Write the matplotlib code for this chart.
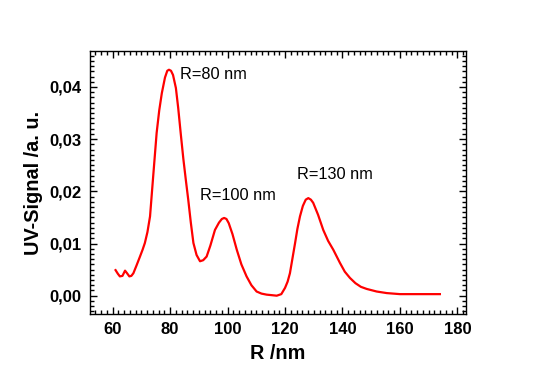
import matplotlib
matplotlib.use("Agg")
import matplotlib.pyplot as plt
from matplotlib.ticker import MultipleLocator, FuncFormatter

plt.rcParams["font.family"] = ["Liberation Sans", "DejaVu Sans"]

# R (nm) and UV signal
radius = [61.0, 61.8, 62.5, 63.4, 64.3, 65.0, 65.8, 66.5, 67.2, 68.3, 69.5, 70.4,
          71.2, 72.1, 73.0, 74.1, 75.3, 76.2, 77.1, 78.2, 79.0, 79.6, 80.3, 81.0,
          82.0, 82.8, 83.7, 84.6, 85.5, 86.3, 87.2, 88.1, 89.2, 90.4, 91.5, 92.7,
          94.0, 95.6, 97.0, 98.0, 98.8, 99.6, 100.4, 101.7, 103.2, 104.8, 106.6,
          108.3, 110.1, 111.8, 113.6, 115.4, 117.1, 118.7, 120.0, 120.9, 121.7,
          122.6, 123.5, 124.3, 125.2, 126.2, 127.2, 128.1, 129.0, 129.8, 131.5,
          133.3, 135.0, 136.8, 139.1, 140.8, 142.6, 144.5, 146.4, 148.4, 151.9,
          155.4, 160.0, 166.0, 173.9]
signal = [0.0049, 0.0042, 0.0037, 0.0038, 0.0048, 0.0043, 0.0037, 0.0038, 0.0043,
          0.0058, 0.0075, 0.0088, 0.0101, 0.0122, 0.0152, 0.0229, 0.0312, 0.0355,
          0.0388, 0.0418, 0.0431, 0.0433, 0.0431, 0.0423, 0.0398, 0.0360, 0.0310,
          0.0262, 0.0220, 0.0184, 0.0140, 0.0101, 0.0078, 0.0066, 0.0068, 0.0075,
          0.0096, 0.0126, 0.0140, 0.0147, 0.0149, 0.0147, 0.0139, 0.0118, 0.0088,
          0.0060, 0.0037, 0.0020, 0.0008, 0.0004, 0.0002, 0.0001, 0.0000, 0.0003,
          0.0015, 0.0027, 0.0043, 0.0072, 0.0101, 0.0128, 0.0152, 0.0172, 0.0184,
          0.0187, 0.0184, 0.0178, 0.0155, 0.0126, 0.0105, 0.0088, 0.0063, 0.0046,
          0.0034, 0.0024, 0.0017, 0.0013, 0.0008, 0.0005, 0.0003, 0.0003, 0.0003]

peak_labels = ["R=80 nm", "R=100 nm", "R=130 nm"]
label_x = [83.6, 90.4, 124.2]
label_y = [0.0423, 0.0192, 0.0232]

fig = plt.figure(figsize=(5.37, 3.76), dpi=100)
ax = fig.add_axes([0.1676, 0.165, 0.7002, 0.6995])

ax.plot(radius, signal, color="red", linewidth=1.6)

for txt, x, y in zip(peak_labels, label_x, label_y):
    ax.text(x, y, txt, fontsize=11.8, va="center", ha="left")

ax.set_xlim(52.1, 183)
ax.set_ylim(-0.0035, 0.0469)

ax.xaxis.set_major_locator(MultipleLocator(20))
ax.xaxis.set_minor_locator(MultipleLocator(2))
ax.yaxis.set_major_locator(MultipleLocator(0.01))
ax.yaxis.set_minor_locator(MultipleLocator(0.001))
ax.yaxis.set_major_formatter(FuncFormatter(lambda v, p: f"{v:.2f}".replace(".", ",")))

ax.tick_params(which="both", direction="in", top=True, right=True, width=1)
ax.tick_params(which="major", length=5, labelsize=12, pad=6)
ax.tick_params(which="minor", length=3)
for lab in ax.get_xticklabels() + ax.get_yticklabels():
    lab.set_fontweight("bold")
for s in ax.spines.values():
    s.set_linewidth(1)

ax.set_xlabel("R /nm", fontsize=14.3, fontweight="bold", labelpad=5)
ax.set_ylabel("UV-Signal /a. u.", fontsize=14.3, fontweight="bold", labelpad=5)

fig.savefig("out.png", dpi=100)
